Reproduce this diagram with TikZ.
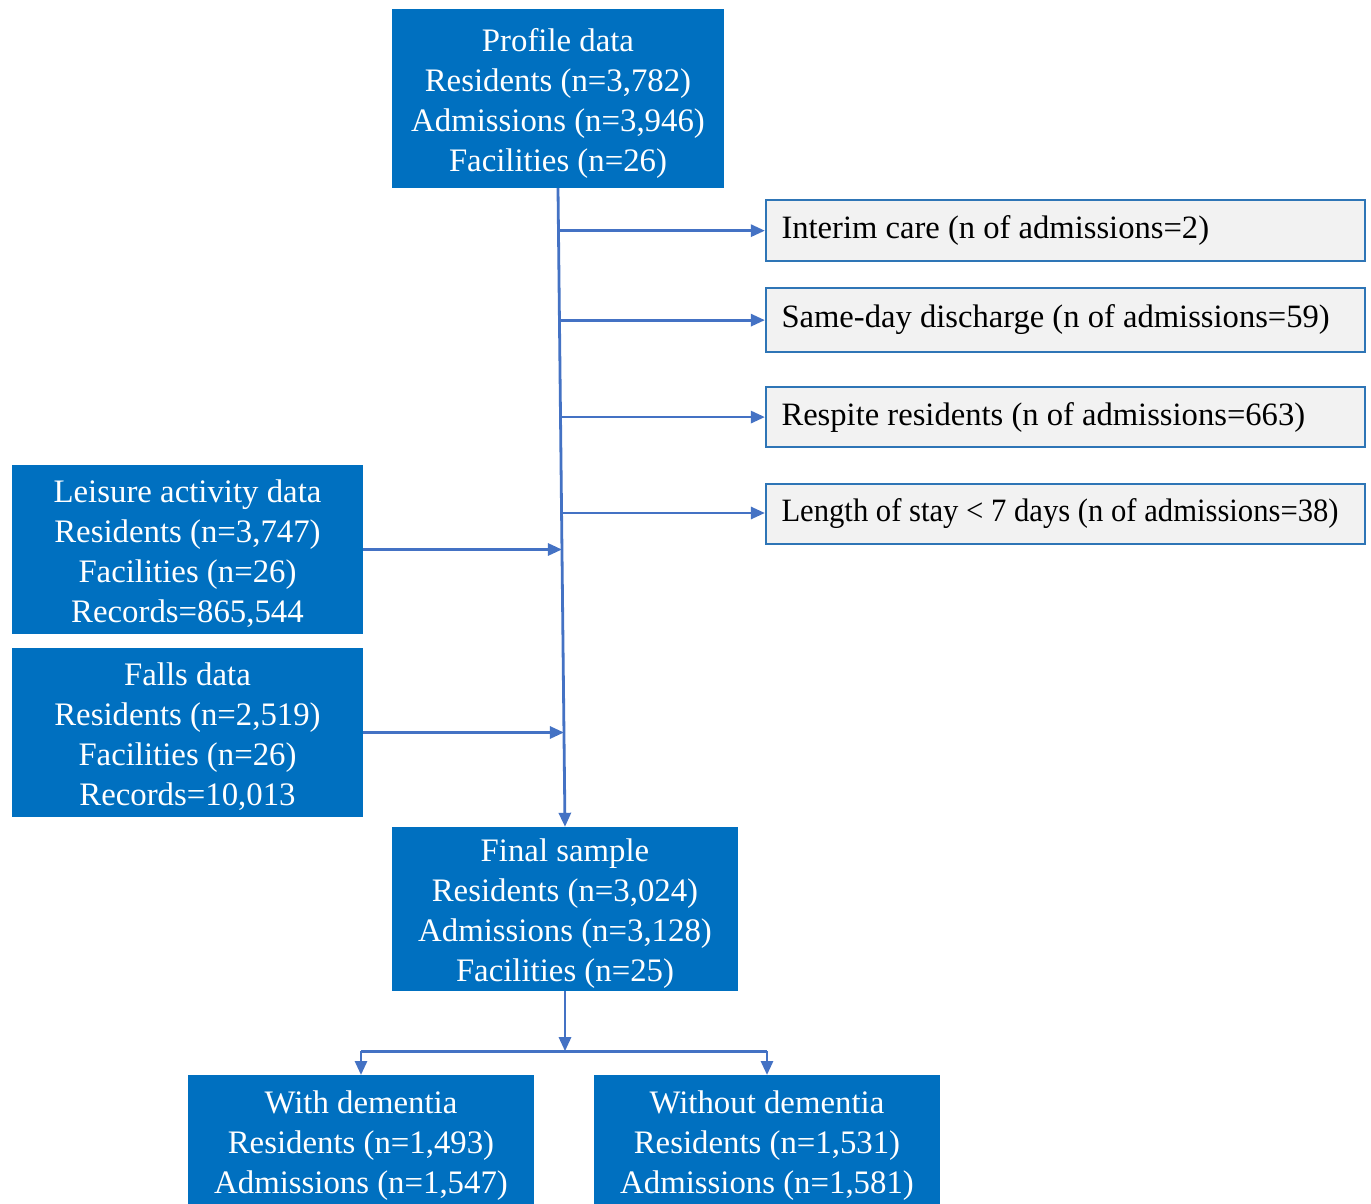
\documentclass[tikz,border=0pt]{standalone}
\usepackage{fontspec}
\usepackage{graphicx}
\setmainfont{Liberation Serif}
\usetikzlibrary{arrows.meta,calc}
\definecolor{boxblue}{HTML}{0070C0}
\definecolor{lineblue}{HTML}{4472C4}
\definecolor{edgeblue}{HTML}{2E75B6}
\definecolor{greyfill}{HTML}{F2F2F2}
\newcommand{\toprule}{\rule{0pt}{32pt}}
\newcommand{\greytext}[1]{\makebox[568pt][l]{#1}}
\begin{document}
\begin{tikzpicture}[x=1pt,y=-1pt,
  txt/.style={font=\fontsize{32.8}{40}\selectfont},
  bluebox/.style={txt, fill=boxblue, text=white, inner sep=0pt, align=center},
  greybox/.style={font=\fontsize{32.6}{40}\selectfont,
    fill=greyfill, draw=edgeblue, line width=2.2pt, inner xsep=15.5pt, inner ysep=0pt},
  conn/.style={draw=lineblue, line width=2.8pt, -{Triangle[length=14pt,width=12pt]}},
  plainline/.style={draw=lineblue, line width=2.8pt}]
\useasboundingbox (0,0) rectangle (1371,1204);
\clip (0,0) rectangle (1371,1204);
\fill[white] (0,0) rectangle (1371,1204);

\node[bluebox, minimum width=332pt, minimum height=179pt] (profile) at (558,98.5)
  {\toprule Profile data\\Residents (n=3,782)\\Admissions (n=3,946)\\Facilities (n=26)};
\node[bluebox, minimum width=346pt, minimum height=164pt] (final) at (565,909)
  {\toprule Final sample\\Residents (n=3,024)\\Admissions (n=3,128)\\Facilities (n=25)};
\node[bluebox, minimum width=351pt, minimum height=169pt] (leisure) at (187.5,549.5)
  {\toprule Leisure activity data\\Residents (n=3,747)\\Facilities (n=26)\\Records=865,544};
\node[bluebox, minimum width=351pt, minimum height=169pt] (falls) at (187.5,732.5)
  {\toprule Falls data\\Residents (n=2,519)\\Facilities (n=26)\\Records=10,013};

\node[greybox, minimum height=61pt] (interim) at (1065.5,230.5) {\greytext{Interim care (n of admissions=2)}};
\node[greybox, minimum height=64pt] (sameday) at (1065.5,320) {\greytext{Same-day discharge (n of admissions=59)}};
\node[greybox, minimum height=60pt] (respite) at (1065.5,417) {\greytext{Respite residents (n of admissions=663)}};
\node[greybox, minimum height=60pt] (los) at (1065.5,514) {\greytext{\scalebox{0.94}[1]{Length of stay < 7 days (n of admissions=38)}}};

\node[bluebox, minimum width=346pt, inner ysep=6.4pt, anchor=north] (withd) at (361,1075)
  {\toprule With dementia\\Residents (n=1,493)\\Admissions (n=1,547)};
\node[bluebox, minimum width=346pt, inner ysep=6.4pt, anchor=north] (withoutd) at (767,1075)
  {\toprule Without dementia\\Residents (n=1,531)\\Admissions (n=1,581)};

\draw[conn] (profile.south) -- (final.north);
\coordinate (b1) at ($(profile.south)!0.0665!(final.north)$);
\coordinate (b2) at ($(profile.south)!0.2066!(final.north)$);
\coordinate (b3) at ($(profile.south)!0.3584!(final.north)$);
\coordinate (b4) at ($(profile.south)!0.5086!(final.north)$);
\coordinate (b5) at ($(profile.south)!0.565!(final.north)$);
\coordinate (b6) at ($(profile.south)!0.8498!(final.north)$);
\draw[conn] (b1) -- (b1 -| interim.west);
\draw[conn] (b2) -- (b2 -| sameday.west);
\draw[conn] (b3) -- (b3 -| respite.west);
\draw[conn] (b4) -- (b4 -| los.west);
\draw[conn] (leisure.east) -- (leisure.east -| b5);
\draw[conn] (falls.east) -- (falls.east -| b6);

\coordinate (split) at ($(final.south)+(0,60)$);
\draw[conn] (final.south) -- (split);
\draw[plainline] (split -| withd.north) -- (split -| withoutd.north);
\draw[conn] (split -| withd.north) -- (withd.north);
\draw[conn] (split -| withoutd.north) -- (withoutd.north);
\end{tikzpicture}
\end{document}
